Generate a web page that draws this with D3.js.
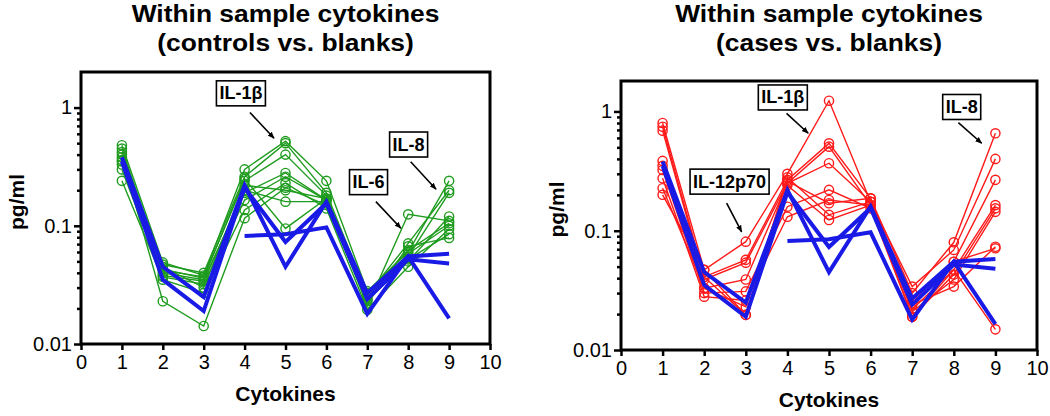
<!DOCTYPE html>
<html><head><meta charset="utf-8">
<script src="https://cdn.jsdelivr.net/npm/d3@7/dist/d3.min.js"></script>
<style>
body{margin:0;background:#fff}
svg{display:block}
text{font-family:"Liberation Sans",Arial,Helvetica,sans-serif}
</style>
</head><body>
<svg id="chart" width="1050" height="416"></svg>
<script>
// ---------- DATA ----------
const cytokines = [1, 2, 3, 4, 5, 6, 7, 8, 9];
const xTicks = [0, 1, 2, 3, 4, 5, 6, 7, 8, 9, 10];
const yTicks = [0.01, 0.1, 1];
const yTickLabels = ["0.01", "0.1", "1"];
const yMinorTicks = [0.02,0.03,0.04,0.05,0.06,0.07,0.08,0.09,0.2,0.3,0.4,0.5,0.6,0.7,0.8,0.9];

// controls (green), one array per sample, values at cytokines 1..9
const control1  = [0.48, 0.049, 0.038, 0.30, 0.52, 0.24, 0.028, 0.060, 0.24];
const control2  = [0.42, 0.047, 0.040, 0.26, 0.50, 0.19, 0.026, 0.071, 0.20];
const control3  = [0.40, 0.042, 0.037, 0.24, 0.40, 0.18, 0.024, 0.055, 0.19];
const control4  = [0.35, 0.040, 0.035, 0.19, 0.28, 0.165, 0.0236, 0.050, 0.12];
const control5  = [0.30, 0.037, 0.032, 0.165, 0.26, 0.165, 0.021, 0.125, 0.11];
const control6  = [0.24, 0.035, 0.027, 0.136, 0.23, 0.14, 0.0195, 0.045, 0.094];
const control7  = [0.38, 0.023, 0.0142, 0.116, 0.21, 0.15, 0.022, 0.067, 0.079];
const control8  = [0.36, 0.045, 0.030, 0.22, 0.20, 0.17, 0.025, 0.058, 0.10];
const control9  = [0.33, 0.038, 0.034, 0.20, 0.16, 0.16, 0.023, 0.052, 0.085];
const control10 = [0.45, 0.043, 0.036, 0.25, 0.095, 0.17, 0.027, 0.062, 0.105];

// cases (red)
const case1 = [0.80, 0.047, 0.081, 0.30, 1.23, 0.175, 0.034, 0.069, 0.40];
const case2 = [0.745, 0.041, 0.057, 0.267, 0.54, 0.187, 0.030, 0.080, 0.656];
const case3 = [0.69, 0.039, 0.054, 0.25, 0.507, 0.164, 0.026, 0.055, 0.267];
const case4 = [0.385, 0.033, 0.039, 0.25, 0.368, 0.175, 0.022, 0.047, 0.164];
const case5 = [0.323, 0.030, 0.031, 0.159, 0.22, 0.154, 0.019, 0.043, 0.154];
const case6 = [0.275, 0.028, 0.026, 0.131, 0.181, 0.164, 0.021, 0.039, 0.144];
const case7 = [0.227, 0.033, 0.023, 0.26, 0.17, 0.187, 0.024, 0.034, 0.0734];
const case8 = [0.20, 0.047, 0.0197, 0.28, 0.136, 0.175, 0.0263, 0.055, 0.0712];
const case9 = [0.35, 0.041, 0.0197, 0.24, 0.123, 0.164, 0.019, 0.047, 0.0149];

// blanks (blue)
const blank1 = [0.38, 0.045, 0.025, 0.22, 0.045, 0.16, 0.027, 0.055, 0.058];
const blank2 = [0.35, 0.035, 0.019, 0.21, 0.073, 0.155, 0.024, 0.052, 0.048];
const blank3 = [null, null, null, 0.082, 0.085, 0.097, 0.018, 0.055, 0.0165];

const controls = [control1, control2, control3, control4, control5, control6, control7, control8, control9, control10];
const cases = [case1, case2, case3, case4, case5, case6, case7, case8, case9];
const blanks = [blank1, blank2, blank3];

const titleLeft = ["Within sample cytokines", "(controls vs. blanks)"];
const titleRight = ["Within sample cytokines", "(cases vs. blanks)"];
const xLabel = "Cytokines";
const yLabel = "pg/ml";

// annotations, in data coordinates (box centre, arrow start, arrow end)
const annotLeft = [
  {label: "IL-1β", bx: 3.91, by: 1.32, ax1: 4.13, ay1: 0.908, ax2: 4.72, ay2: 0.55},
  {label: "IL-8",  bx: 8.01, by: 0.487, ax1: 8.06, ay1: 0.348, ax2: 8.68, ay2: 0.204},
  {label: "IL-6",  bx: 7.03, by: 0.234, ax1: 7.21, ay1: 0.16, ax2: 7.82, ay2: 0.0953}
];
const annotRight = [
  {label: "IL-1β",    bx: 3.89, by: 1.31, ax1: 3.98, ay1: 0.965, ax2: 4.50, ay2: 0.656},
  {label: "IL-12p70", bx: 2.61, by: 0.258, ax1: 2.54, ay1: 0.17, ax2: 2.90, ay2: 0.098},
  {label: "IL-8",     bx: 8.19, by: 1.09, ax1: 8.11, ay1: 0.805, ax2: 8.67, ay2: 0.541}
];

// ---------- LAYOUT ----------
const panels = [
  {x0: 81, x1: 490, top: 72, bottom: 344, yMax: 2, title: titleLeft, series: controls, color: "#1f9c1f", annots: annotLeft},
  {x0: 621, x1: 1037, top: 81, bottom: 350, yMax: 1.8, title: titleRight, series: cases, color: "#ff1a1a", annots: annotRight}
];
const blueColor = "#1a1ae6";

const svg = d3.select("#chart");
const defs = svg.append("defs");
defs.append("marker").attr("id", "arrow").attr("viewBox", "0 0 10 10")
  .attr("refX", 9).attr("refY", 5).attr("markerWidth", 7).attr("markerHeight", 7)
  .attr("orient", "auto-start-reverse").attr("markerUnits", "userSpaceOnUse")
  .append("path").attr("d", "M0,1 L10,5 L0,9 Z").attr("fill", "#000");

panels.forEach(p => {
  const g = svg.append("g");
  const x = d3.scaleLinear().domain([0, 10]).range([p.x0, p.x1]);
  const y = d3.scaleLog().domain([0.01, p.yMax]).range([p.bottom, p.top]);
  const cx = (p.x0 + p.x1) / 2;

  // titles
  p.title.forEach((t, i) => {
    g.append("text").attr("transform", `translate(${cx},${i === 0 ? 22 : 51}) scale(1.1,1)`)
      .attr("text-anchor", "middle").attr("font-size", 24).attr("font-weight", "bold").text(t);
  });

  // minor y ticks
  const minorAxis = d3.axisLeft(y).tickValues(yMinorTicks).tickSize(4).tickFormat("");
  const gm = g.append("g").attr("transform", `translate(${p.x0},0)`).call(minorAxis);
  gm.select(".domain").remove();
  gm.selectAll("line").attr("stroke-width", 2.5);

  // major y ticks
  const yAxis = d3.axisLeft(y).tickValues(yTicks).tickSize(7).tickPadding(2)
    .tickFormat((d, i) => yTickLabels[i]);
  const gy = g.append("g").attr("transform", `translate(${p.x0},0)`).call(yAxis);
  gy.select(".domain").remove();
  gy.selectAll("line").attr("stroke-width", 2.5);
  gy.selectAll("text").attr("font-size", 20).attr("fill", "#000").attr("font-family", "Liberation Sans, Arial, sans-serif");

  // x axis
  const xAxis = d3.axisBottom(x).tickValues(xTicks).tickSize(6).tickPadding(5).tickFormat(d3.format("d"));
  const gx = g.append("g").attr("transform", `translate(0,${p.bottom})`).call(xAxis);
  gx.select(".domain").remove();
  gx.selectAll("line").attr("stroke-width", 2.5);
  gx.selectAll("text").attr("font-size", 20).attr("fill", "#000").attr("font-family", "Liberation Sans, Arial, sans-serif");

  // frame
  g.append("rect").attr("x", p.x0).attr("y", p.top).attr("width", p.x1 - p.x0).attr("height", p.bottom - p.top)
    .attr("fill", "none").attr("stroke", "#000").attr("stroke-width", 3);

  // axis labels
  g.append("text").attr("x", cx).attr("y", p.bottom + 57).attr("text-anchor", "middle")
    .attr("font-size", 21).attr("font-weight", "bold").text(xLabel);
  g.append("text").attr("transform", `translate(${p.x0 - 57},${(p.top + p.bottom) / 2 - 6}) rotate(-90)`)
    .attr("text-anchor", "middle").attr("font-size", 21).attr("font-weight", "bold").text(yLabel);

  const line = d3.line().defined(d => d != null)
    .x((d, i) => x(cytokines[i])).y(d => y(d));
  const lineIdx = d3.line().defined(d => d.v != null).x(d => x(d.c)).y(d => y(d.v));

  // sample series
  p.series.forEach(s => {
    const pts = s.map((v, i) => ({c: cytokines[i], v}));
    g.append("path").attr("d", lineIdx(pts)).attr("fill", "none").attr("stroke", p.color).attr("stroke-width", 1.4);
    g.selectAll(null).data(pts.filter(d => d.v != null)).enter().append("circle")
      .attr("cx", d => x(d.c)).attr("cy", d => y(d.v)).attr("r", 4.6)
      .attr("fill", "none").attr("stroke", p.color).attr("stroke-width", 1.4);
  });

  // blanks
  blanks.forEach(s => {
    const pts = s.map((v, i) => ({c: cytokines[i], v}));
    g.append("path").attr("d", lineIdx(pts)).attr("fill", "none").attr("stroke", blueColor)
      .attr("stroke-width", 4).attr("stroke-linejoin", "miter");
  });

  // annotations
  p.annots.forEach(a => {
    g.append("line").attr("x1", x(a.ax1)).attr("y1", y(a.ay1)).attr("x2", x(a.ax2)).attr("y2", y(a.ay2))
      .attr("stroke", "#000").attr("stroke-width", 1.6).attr("marker-end", "url(#arrow)");
    const t = g.append("text").attr("x", x(a.bx)).attr("y", y(a.by)).attr("text-anchor", "middle")
      .attr("dominant-baseline", "central").attr("font-size", 18).attr("font-weight", "bold").text(a.label);
    const bb = t.node().getBBox();
    g.insert("rect", () => t.node()).attr("x", bb.x - 3).attr("y", y(a.by) - 12.5)
      .attr("width", bb.width + 6).attr("height", 25)
      .attr("fill", "#fff").attr("stroke", "#000").attr("stroke-width", 1.6);
  });
});
</script>
</body></html>
